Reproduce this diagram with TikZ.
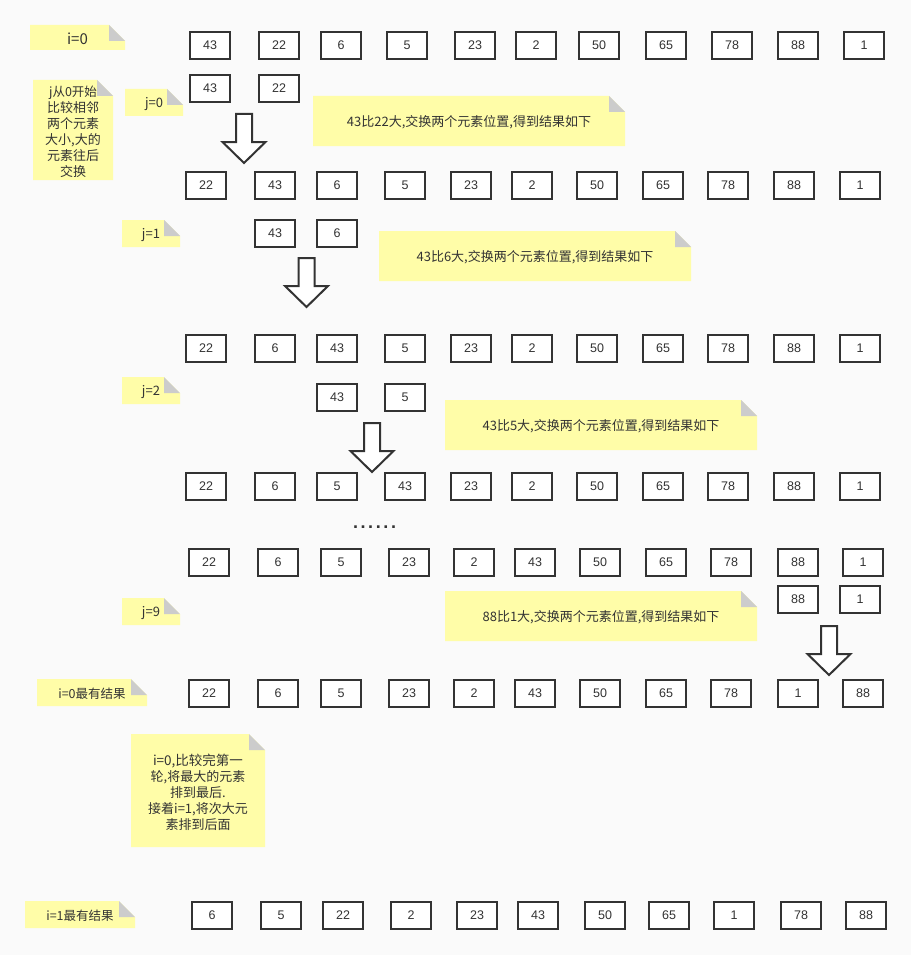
\documentclass[tikz,border=0pt]{standalone}
\usepackage{fontspec}
\setmainfont{Liberation Sans}
\newfontfamily\cjk{Noto Sans CJK SC}
\definecolor{bgc}{HTML}{FAFAFA}
\definecolor{boxc}{HTML}{333333}
\definecolor{txt}{HTML}{333333}
\definecolor{notey}{HTML}{FFFDA8}
\definecolor{foldc}{HTML}{CCCCCC}
\tikzset{
  cell/.style={draw=boxc, line width=2pt, fill=white, minimum width=40pt,
    minimum height=27.5pt, inner sep=0pt, text=txt,
    font=\fontsize{12.5}{14}\selectfont},
  notetext/.style={text=txt, font=\cjk\fontsize{13}{16}\selectfont,
    align=center, inner sep=0pt},
  blockarrow/.pic={
    \draw[line width=2pt, draw=boxc, fill=white, line join=miter]
      (-8,1) -- (8,1) -- (8,29) -- (21.5,29) -- (0,50) -- (-21.5,29) -- (-8,29) -- cycle;
  }
}
\newcommand\stickynote[6]{%
  \fill[notey] (#2,#3) -- (#4-16,#3) -- (#4,#3+16) -- (#4,#5) -- (#2,#5) -- cycle;
  \fill[foldc] (#4-16,#3) -- (#4-16,#3+16) -- (#4,#3+16) -- cycle;
  \node[notetext] (#1) at ({(#2+#4)/2},{(#3+#5)/2+1.5}) {#6};}
\begin{document}
\begin{tikzpicture}[x=1pt,y=-1pt]
\useasboundingbox (0,0) rectangle (911,955);
\fill[bgc] (0,0) rectangle (911,955);

% notes
\stickynote{ni0}{30}{25}{125}{50}{\fontsize{15}{18}\selectfont i=0}
\stickynote{njdesc}{33}{80}{113}{180}{\fontsize{12.5}{15.6}\selectfont j从0开始\\比较相邻\\两个元素\\大小,大的\\元素往后\\交换}
\stickynote{nj0}{125}{89}{183}{116}{j=0}
\stickynote{ns1}{313}{96}{625}{146}{43比22大,交换两个元素位置,得到结果如下}
\stickynote{nj1}{122}{220}{180}{247}{j=1}
\stickynote{ns2}{379}{231}{691}{281}{43比6大,交换两个元素位置,得到结果如下}
\stickynote{nj2}{122}{377}{180}{404}{j=2}
\stickynote{ns3}{445}{400}{757}{450}{43比5大,交换两个元素位置,得到结果如下}
\stickynote{nj9}{122}{598}{180}{625}{j=9}
\stickynote{ns4}{445}{591}{757}{641}{88比1大,交换两个元素位置,得到结果如下}
\stickynote{nr0}{37}{679}{147}{706}{\fontsize{12.5}{15}\selectfont i=0最有结果}
\stickynote{nsum}{131}{734}{265}{847}{\fontsize{13.5}{19}\selectfont i=0,比较完第一\\轮,将最大的元素\\排到最后.\\接着i=1,将次大元\\素排到后面}
\stickynote{nr1}{25}{901}{135}{928}{\fontsize{12.5}{15}\selectfont i=1最有结果}

% rows of cells
\foreach \x/\v [count=\i] in {189/43,258/22,320/6,386/5,454/23,515/2,578/50,645/65,711/78,777/88,843/1}
  \node[cell] (ra\i) at (\x+21,45.5) {\v};
\foreach \x/\v [count=\i] in {189/43,258/22}
  \node[cell] (rb\i) at (\x+21,88.5) {\v};
\foreach \x/\v [count=\i] in {185/22,254/43,316/6,384/5,450/23,511/2,576/50,642/65,707/78,773/88,839/1}
  \node[cell] (rc\i) at (\x+21,185.5) {\v};
\foreach \x/\v [count=\i] in {254/43,316/6}
  \node[cell] (rd\i) at (\x+21,233.5) {\v};
\foreach \x/\v [count=\i] in {185/22,254/6,316/43,384/5,450/23,511/2,576/50,642/65,707/78,773/88,839/1}
  \node[cell] (re\i) at (\x+21,348.5) {\v};
\foreach \x/\v [count=\i] in {316/43,384/5}
  \node[cell] (rf\i) at (\x+21,397.5) {\v};
\foreach \x/\v [count=\i] in {185/22,254/6,316/5,384/43,450/23,511/2,576/50,642/65,707/78,773/88,839/1}
  \node[cell] (rg\i) at (\x+21,486.5) {\v};
\foreach \x/\v [count=\i] in {188/22,257/6,320/5,388/23,453/2,514/43,579/50,645/65,710/78,777/88,842/1}
  \node[cell] (rh\i) at (\x+21,562.5) {\v};
\foreach \x/\v [count=\i] in {777/88,839/1}
  \node[cell] (ri\i) at (\x+21,599.5) {\v};
\foreach \x/\v [count=\i] in {188/22,257/6,320/5,388/23,453/2,514/43,579/50,645/65,710/78,777/1,842/88}
  \node[cell] (rj\i) at (\x+21,693.5) {\v};
\foreach \x/\v [count=\i] in {191/6,260/5,322/22,390/2,456/23,517/43,584/50,648/65,713/1,780/78,845/88}
  \node[cell] (rk\i) at (\x+21,915.5) {\v};

% dots
\node[text=txt, inner sep=0pt, font=\bfseries\fontsize{18}{18}\selectfont] (dots) at (374.5,527)
  {.\kern2.6pt.\kern2.6pt.\kern2.6pt.\kern2.6pt.\kern2.6pt.};

% block arrows
\pic at (244,113) {blockarrow};
\pic at (306.5,257) {blockarrow};
\pic at (372,422) {blockarrow};
\pic at (829,625) {blockarrow};
\end{tikzpicture}
\end{document}
